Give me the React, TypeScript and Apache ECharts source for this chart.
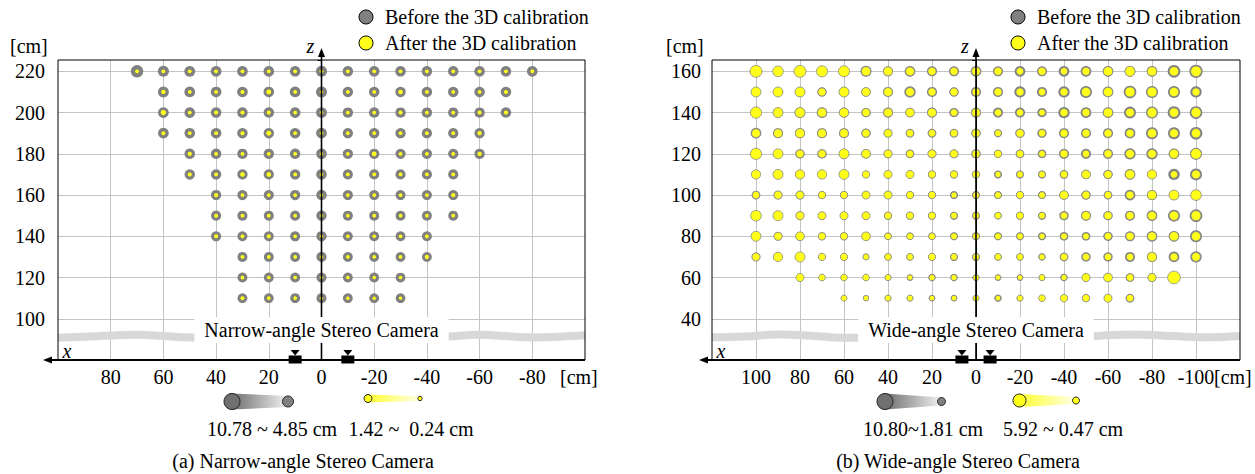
import React, { useEffect, useRef } from "react";
import * as echarts from "echarts";

const FONT = "Liberation Serif, Times New Roman, serif";

// ---------- Narrow-angle stereo camera (panel a) ----------
const narrowX = [70, 60, 50, 40, 30, 20, 10, 0, -10, -20, -30, -40, -50, -60, -70, -80];
const narrowZ = [220, 210, 200, 190, 180, 170, 160, 150, 140, 130, 120, 110];
const _ = null;
// error before calibration [cm]
const narrowBefore = [
  [10.78, 7.5, 7.2, 7.0, 6.8, 6.8, 6.6, 7.4, 6.4, 6.6, 6.5, 6.4, 6.3, 6.5, 6.6, 6.8],
  [_, 7.2, 6.9, 6.8, 6.6, 6.7, 6.9, 7.5, 6.2, 6.4, 6.3, 6.2, 6.2, 6.4, 6.5, _],
  [_, 6.9, 6.7, 6.6, 6.5, 6.4, 6.7, 7.2, 6.1, 6.3, 6.2, 6.1, 6.0, 6.2, 6.4, _],
  [_, 6.8, 6.6, 6.4, 6.3, 6.2, 6.5, 6.9, 5.9, 6.1, 6.0, 5.9, 5.9, 6.1, _, _],
  [_, _, 6.4, 6.2, 6.1, 6.0, 6.3, 6.7, 5.8, 5.9, 5.8, 5.7, 5.8, 6.0, _, _],
  [_, _, 6.2, 6.0, 5.9, 5.8, 6.1, 6.5, 5.6, 5.7, 5.6, 5.6, 5.7, _, _, _],
  [_, _, _, 5.9, 5.7, 5.6, 5.9, 6.3, 5.5, 5.5, 5.4, 5.4, 5.5, _, _, _],
  [_, _, _, 5.7, 5.5, 5.4, 5.7, 6.1, 5.3, 5.3, 5.2, 5.2, 5.4, _, _, _],
  [_, _, _, 5.5, 5.3, 5.2, 5.5, 5.9, 5.1, 5.1, 5.0, 5.1, _, _, _, _],
  [_, _, _, _, 5.2, 5.1, 5.3, 5.7, 5.0, 4.9, 4.9, 5.0, _, _, _, _],
  [_, _, _, _, 5.1, 5.0, 5.2, 5.5, 4.9, 4.9, 4.85, _, _, _, _, _],
  [_, _, _, _, 5.0, 4.9, 5.1, 5.4, 4.9, 4.85, 4.9, _, _, _, _, _],
];
// error after calibration [cm]
const narrowAfter = [
  [0.6, 0.5, 0.5, 0.5, 0.5, 0.5, 0.5, 0.5, 0.5, 0.5, 0.5, 0.5, 0.5, 0.5, 0.5, 0.6],
  [_, 0.8, 0.5, 0.5, 0.6, 1.2, 0.5, 0.4, 0.5, 0.5, 1.0, 0.5, 0.5, 0.5, 0.6, _],
  [_, 1.42, 0.5, 0.6, 0.6, 0.7, 0.5, 0.4, 0.5, 0.5, 0.6, 0.5, 0.5, 0.6, 0.7, _],
  [_, 0.6, 0.5, 0.5, 0.6, 1.2, 0.5, 0.4, 0.4, 0.5, 0.5, 0.5, 0.5, 0.8, _, _],
  [_, _, 0.8, 0.5, 0.5, 0.5, 0.5, 0.4, 0.5, 1.1, 0.5, 0.5, 0.5, 0.8, _, _],
  [_, _, 0.7, 0.5, 1.0, 1.0, 0.5, 0.4, 0.5, 0.5, 0.5, 0.5, 0.5, _, _, _],
  [_, _, _, 0.8, 0.5, 0.5, 0.5, 0.4, 0.4, 0.5, 0.5, 0.5, 0.8, _, _, _],
  [_, _, _, 0.6, 0.5, 0.5, 0.4, 0.4, 0.4, 0.4, 0.4, 0.4, 0.5, _, _, _],
  [_, _, _, 0.7, 0.5, 0.7, 0.4, 0.4, 0.4, 0.4, 0.4, 0.5, _, _, _, _],
  [_, _, _, _, 0.5, 0.5, 0.4, 0.4, 0.4, 0.4, 0.4, 0.7, _, _, _, _],
  [_, _, _, _, 0.5, 0.4, 0.4, 0.3, 0.4, 0.4, 0.4, _, _, _, _, _],
  [_, _, _, _, 0.6, 0.4, 0.4, 0.3, 0.3, 0.3, 0.24, _, _, _, _, _],
];
const narrowCameras = [10, -10];
const narrowBand = [
  [100, 90.8], [90, 91.3], [80, 91.9], [70, 92.2], [60, 91.6], [50, 90.9], [40, 90.6],
  [-40, 90.6], [-50, 91.5], [-60, 92.3], [-70, 91.6], [-80, 90.9], [-90, 91.3], [-100, 92.0],
];

// ---------- Wide-angle stereo camera (panel b) ----------
const wideX = [100, 90, 80, 70, 60, 50, 40, 30, 20, 10, 0, -10, -20, -30, -40, -50, -60, -70, -80, -90, -100];
const wideZ = [160, 150, 140, 130, 120, 110, 100, 90, 80, 70, 60, 50];
const wideBefore = [
  [6.8, 5.9, 7.6, 6.8, 6.8, 8.0, 6.8, 7.6, 6.8, 6.8, 7.6, 6.8, 7.6, 6.8, 7.6, 7.6, 7.6, 7.6, 7.6, 10.0, 10.8],
  [5.9, 5.9, 6.8, 5.9, 6.8, 5.9, 6.8, 8.4, 6.8, 5.9, 6.8, 6.8, 8.4, 6.8, 8.4, 9.2, 7.6, 10.0, 9.2, 9.2, 8.4],
  [6.8, 6.8, 7.6, 7.6, 6.8, 5.9, 6.8, 5.9, 6.8, 5.9, 6.8, 6.8, 6.8, 5.9, 8.4, 7.6, 7.6, 9.2, 9.2, 10.0, 10.0],
  [7.6, 6.8, 6.8, 6.8, 6.8, 5.9, 5.1, 5.1, 5.1, 5.1, 5.9, 4.3, 5.9, 5.9, 6.8, 6.8, 6.8, 7.6, 9.2, 9.2, 10.0],
  [6.8, 5.9, 5.9, 5.9, 6.8, 5.9, 5.1, 5.1, 5.1, 5.1, 5.9, 4.3, 5.1, 5.1, 6.8, 6.8, 6.8, 8.4, 8.4, 7.6, 9.2],
  [5.1, 5.9, 5.9, 5.1, 5.9, 3.5, 4.3, 4.3, 4.3, 4.3, 4.3, 4.3, 4.3, 4.3, 5.1, 5.9, 5.9, 7.6, 5.9, 8.4, 9.2],
  [5.1, 5.1, 5.1, 4.3, 4.3, 4.3, 4.3, 4.3, 4.3, 4.3, 4.3, 4.3, 4.3, 4.3, 5.9, 5.9, 5.1, 7.6, 6.8, 6.8, 7.6],
  [6.8, 5.9, 5.1, 4.3, 4.3, 4.3, 4.3, 4.3, 4.3, 4.3, 4.3, 3.5, 4.3, 4.3, 5.9, 6.8, 5.9, 6.8, 7.6, 9.2, 10.0],
  [5.9, 5.1, 5.1, 4.3, 4.3, 5.1, 3.5, 3.5, 3.5, 4.3, 4.3, 4.3, 4.3, 4.3, 5.1, 5.1, 5.9, 6.8, 7.6, 7.6, 9.2],
  [5.1, 5.1, 5.1, 3.5, 3.5, 2.6, 3.5, 3.5, 3.5, 4.3, 4.3, 3.5, 3.5, 3.5, 5.1, 5.9, 5.9, 6.8, 6.8, 7.6, 8.4],
  [_, _, 3.5, 2.6, 2.6, 2.6, 2.6, 2.6, 3.5, 3.5, 2.6, 2.6, 2.6, 2.6, 3.5, 4.3, 5.1, 5.1, 5.1, 8.4, _],
  [_, _, _, _, 1.81, 1.8, 2.6, 2.6, 2.6, 2.6, 2.6, 3.5, 2.6, 2.6, 3.5, 4.3, 4.3, 5.1, _, _, _],
];
const wideAfter = [
  [5.4, 4.4, 5.4, 4.7, 4.7, 3.4, 3.2, 3.0, 2.5, 2.5, 3.0, 2.5, 2.0, 2.5, 2.0, 2.5, 3.4, 3.9, 3.4, 3.4, 4.4],
  [3.9, 3.9, 3.9, 2.5, 3.9, 3.0, 3.0, 3.0, 2.5, 2.5, 2.5, 2.5, 2.5, 2.0, 2.5, 3.4, 3.4, 3.9, 3.9, 3.4, 2.5],
  [4.9, 3.9, 3.9, 3.4, 3.4, 2.5, 3.0, 3.0, 3.0, 2.0, 3.0, 2.0, 2.0, 1.5, 2.5, 2.5, 3.4, 3.0, 3.9, 3.4, 3.9],
  [3.0, 3.0, 3.4, 3.0, 3.0, 2.5, 2.5, 2.0, 2.0, 2.0, 2.5, 1.5, 2.5, 2.0, 2.5, 2.5, 2.5, 2.5, 3.4, 3.0, 3.4],
  [4.9, 3.9, 2.5, 2.5, 3.9, 3.0, 2.5, 2.0, 2.5, 2.5, 2.5, 2.0, 2.0, 1.5, 2.5, 2.0, 2.5, 3.0, 3.0, 3.4, 4.4],
  [3.4, 3.9, 3.4, 3.4, 3.9, 2.0, 2.5, 2.5, 2.0, 2.0, 2.0, 1.0, 1.5, 1.5, 2.0, 3.0, 2.5, 3.4, 3.4, 2.0, 3.0],
  [2.0, 2.5, 2.5, 2.0, 2.0, 2.5, 2.5, 2.0, 2.0, 1.0, 1.5, 1.5, 2.0, 1.5, 3.0, 2.5, 2.0, 2.5, 3.4, 3.9, 4.4],
  [4.4, 3.9, 2.5, 2.5, 2.5, 2.5, 2.0, 2.0, 2.0, 1.5, 1.5, 1.5, 2.0, 1.5, 2.0, 3.0, 2.5, 2.5, 3.0, 3.4, 3.9],
  [3.9, 2.5, 3.0, 2.0, 2.0, 3.0, 1.5, 1.5, 1.5, 1.5, 1.5, 1.5, 1.5, 1.0, 1.5, 1.5, 2.0, 2.5, 3.0, 3.4, 3.4],
  [2.5, 3.4, 3.9, 2.0, 2.0, 1.0, 1.5, 1.5, 2.0, 1.5, 1.5, 1.5, 1.5, 1.0, 2.0, 2.0, 2.0, 2.0, 3.4, 2.5, 3.0],
  [_, _, 2.5, 1.5, 1.5, 1.5, 1.0, 0.5, 1.0, 1.0, 1.0, 0.5, 0.5, 1.0, 1.0, 2.5, 3.0, 2.0, 2.5, 5.92, _],
  [_, _, _, _, 1.0, 0.47, 1.0, 1.0, 0.5, 0.5, 1.0, 0.5, 1.0, 1.5, 2.0, 2.0, 2.5, 2.0, _, _, _],
];
const wideCameras = [6.4, -6.4];
const wideBand = [
  [120, 31.0], [105, 31.4], [90, 32.4], [75, 31.8], [60, 30.8], [45, 30.9],
  [-45, 31.0], [-60, 32.0], [-75, 32.3], [-90, 31.6], [-105, 31.0], [-120, 31.6],
];

const NAME_BEFORE = "Before the 3D calibration";
const NAME_AFTER = "After the 3D calibration";

function toPoints(xs: number[], zs: number[], vals: (number | null)[][]) {
  const out: number[][] = [];
  zs.forEach((z, i) => {
    xs.forEach((x, j) => {
      const v = vals[i][j];
      if (v !== null && v !== undefined) out.push([x, z, v]);
    });
  });
  return out;
}

const GRAY = "#808080";
const YELLOW = "#ffff1a";
const GRID_COLOR = "#c4c4c4";
const RICH = { t: { fontFamily: FONT, fontSize: 20, color: "#000" } };

function axisX(gridIndex: number, lim: number) {
  return {
    type: "value",
    gridIndex,
    min: -lim,
    max: lim,
    interval: 20,
    inverse: true,
    axisLine: { show: false },
    axisTick: { show: false },
    splitLine: { show: true, showMinLine: false, showMaxLine: false, lineStyle: { color: GRID_COLOR, width: 1 } },
    axisLabel: {
      interval: 0,
      margin: 7,
      color: "#000",
      fontSize: 20,
      fontFamily: FONT,
      rich: RICH,
      formatter: (v: number) => (Math.abs(v) >= lim - 0.001 ? "" : `{t|${v}}`),
    },
  };
}

function axisY(gridIndex: number, min: number, max: number, margin: number) {
  return {
    type: "value",
    gridIndex,
    min,
    max,
    interval: 20,
    axisLine: { show: true, lineStyle: { color: "#000", width: 1 } },
    axisTick: { show: true, length: 4, lineStyle: { color: "#000" } },
    splitLine: { show: true, showMinLine: false, showMaxLine: false, lineStyle: { color: GRID_COLOR, width: 1 } },
    axisLabel: {
      margin,
      color: "#000",
      fontSize: 20,
      fontFamily: FONT,
      rich: RICH,
      formatter: (v: number) => (v > min + 0.001 && v < max - 1 && v % 20 === 0 ? `{t|${v}}` : ""),
    },
  };
}

export default function App() {
  const ref = useRef<HTMLDivElement>(null);
  useEffect(() => {
    if (!ref.current) return;
    const chart = echarts.init(ref.current, null, { renderer: "svg" });
    const nbSize = (e: number) => 7.6 + 0.45 * e;
    const naSize = (e: number) => 3.0 + 1.6 * e;
    const wbSize = (e: number) => 4.53 + 0.81 * e;
    const waSize = (e: number) => 4.7 + 1.345 * e;

    const option: any = {
      animation: false,
      backgroundColor: "#fff",
      textStyle: { fontFamily: FONT, fontSize: 20, color: "#000" },
      grid: [
        { left: 58, top: 60, width: 527, height: 300, show: false },
        { left: 712, top: 60, width: 528, height: 300, show: false },
      ],
      xAxis: [axisX(0, 100), axisX(1, 120)],
      yAxis: [axisY(0, 80, 225.5, 13), axisY(1, 20, 165.5, 11)],
      series: [
        {
          name: NAME_BEFORE, type: "scatter", xAxisIndex: 0, yAxisIndex: 0, silent: true, z: 2,
          data: toPoints(narrowX, narrowZ, narrowBefore),
          symbolSize: (v: number[]) => nbSize(v[2]),
          itemStyle: { color: GRAY, opacity: 1 },
        },
        {
          name: NAME_AFTER, type: "scatter", xAxisIndex: 0, yAxisIndex: 0, silent: true, z: 3,
          data: toPoints(narrowX, narrowZ, narrowAfter),
          symbolSize: (v: number[]) => naSize(v[2]),
          itemStyle: { color: YELLOW, opacity: 1 },
        },
        {
          name: NAME_BEFORE, type: "scatter", xAxisIndex: 1, yAxisIndex: 1, silent: true, z: 2,
          data: toPoints(wideX, wideZ, wideBefore),
          symbolSize: (v: number[]) => wbSize(v[2]),
          itemStyle: { color: GRAY, opacity: 1 },
        },
        {
          name: NAME_AFTER, type: "scatter", xAxisIndex: 1, yAxisIndex: 1, silent: true, z: 3,
          data: toPoints(wideX, wideZ, wideAfter),
          symbolSize: (v: number[]) => waSize(v[2]),
          itemStyle: { color: YELLOW, opacity: 1, borderColor: "#8a8a8a", borderWidth: 0.8 },
        },
      ],
    };
    chart.setOption(option);

    const graphics: any[] = [];
    const txt = (x: number, y: number, text: string, extra: any = {}, z = 30) => {
      graphics.push({
        type: "text", x, y, z, silent: true,
        style: { text, fontSize: 20, fontFamily: FONT, fill: "#000", align: "left", verticalAlign: "middle", ...extra },
      });
    };

    const panels = [
      { g: 0, lim: 100, zMin: 80, zMax: 225.5, cams: narrowCameras, band: narrowBand, label: "Narrow-angle Stereo Camera", tip: 15 },
      { g: 1, lim: 120, zMin: 20, zMax: 165.5, cams: wideCameras, band: wideBand, label: "Wide-angle Stereo Camera", tip: 13 },
    ];
    panels.forEach((p) => {
      const px = (x: number, z: number) => chart.convertToPixel({ gridIndex: p.g } as any, [x, z]) as number[];
      const [L, B] = px(p.lim, p.zMin);
      const [R, T] = px(-p.lim, p.zMax);
      const X0 = px(0, p.zMin)[0];
      // wavy band
      graphics.push({
        type: "polyline", z: 5, silent: true,
        shape: { points: p.band.map((b) => px(b[0], b[1])), smooth: 0.4 },
        style: { stroke: "#d8d8d8", lineWidth: 8, fill: "none" },
      });
      // box
      graphics.push({
        type: "rect", z: 20, silent: true,
        shape: { x: L, y: T, width: R - L, height: B - T },
        style: { fill: "none", stroke: "#000", lineWidth: 1 },
      });
      // z axis
      graphics.push({
        type: "line", z: 12, silent: true,
        shape: { x1: X0, y1: B, x2: X0, y2: T - 5 },
        style: { stroke: "#000", lineWidth: 1.6 },
      });
      graphics.push({
        type: "polygon", z: 12, silent: true,
        shape: { points: [[X0, T - 12], [X0 - 3.5, T - 3], [X0 + 3.5, T - 3]] },
        style: { fill: "#000" },
      });
      // x axis
      graphics.push({
        type: "line", z: 21, silent: true,
        shape: { x1: L - p.tip + 4, y1: B, x2: R, y2: B },
        style: { stroke: "#000", lineWidth: 1.8 },
      });
      graphics.push({
        type: "polygon", z: 21, silent: true,
        shape: { points: [[L - p.tip, B], [L - p.tip + 9, B - 3.5], [L - p.tip + 9, B + 3.5]] },
        style: { fill: "#000" },
      });
      // cameras
      p.cams.forEach((cx) => {
        const c = px(cx, p.zMin)[0];
        graphics.push({
          type: "rect", z: 22, silent: true,
          shape: { x: c - 6.5, y: B - 4.5, width: 13, height: 8 },
          style: { fill: "#000" },
        });
        graphics.push({
          type: "polygon", z: 22, silent: true,
          shape: { points: [[c - 4.5, B - 10], [c + 4.5, B - 10], [c, B - 4.5]] },
          style: { fill: "#000" },
        });
      });
      // axis letters
      txt(X0 - 11, T - 14, "z", { fontStyle: "italic", align: "center" });
      txt(L + 9, B - 9, "x", { fontStyle: "italic", align: "center" });
      // camera label with white box
      graphics.push({
        type: "text", x: X0, y: B - 30, z: 25, silent: true,
        style: {
          text: p.label, fontSize: 20, fontFamily: FONT, fill: "#000",
          align: "center", verticalAlign: "middle",
          backgroundColor: "#fff", padding: [3, 10, 3, 10], lineHeight: 20,
        },
      });
    });

    // unit labels
    txt(10, 46, "[cm]");
    txt(666, 46, "[cm]");
    txt(560, 377, "[cm]");
    txt(1214, 377, "[cm]");

    // top legends
    const legend = (cx: number) => {
      graphics.push({ type: "circle", z: 30, silent: true, shape: { cx, cy: 17, r: 7 }, style: { fill: GRAY, stroke: "#000", lineWidth: 1 } });
      graphics.push({ type: "circle", z: 30, silent: true, shape: { cx, cy: 43, r: 7 }, style: { fill: YELLOW, stroke: "#000", lineWidth: 1 } });
      txt(cx + 19, 17, NAME_BEFORE);
      txt(cx + 19, 43, NAME_AFTER);
    };
    legend(366);
    legend(1018);

    // size legends
    const sizeLegend = (x1: number, r1: number, x2: number, r2: number, cy: number, fillBig: string, fillSmall: string, gradFrom: string, gradTo: string, stroke: string) => {
      graphics.push({
        type: "polygon", z: 29, silent: true,
        shape: { points: [[x1, cy - r1], [x2, cy - r2], [x2, cy + r2], [x1, cy + r1]] },
        style: {
          fill: new echarts.graphic.LinearGradient(0, 0, 1, 0, [
            { offset: 0, color: gradFrom },
            { offset: 1, color: gradTo },
          ]),
        },
      });
      graphics.push({ type: "circle", z: 30, silent: true, shape: { cx: x1, cy, r: r1 }, style: { fill: fillBig, stroke, lineWidth: 1 } });
      graphics.push({ type: "circle", z: 30, silent: true, shape: { cx: x2, cy, r: r2 }, style: { fill: fillSmall, stroke, lineWidth: 1 } });
    };
    sizeLegend(232, 8, 288, 5.5, 401.5, "#707070", "#808080", "#6e6e6e", "#f2f2f2", "#222");
    sizeLegend(368, 4, 420, 2.2, 398.5, YELLOW, YELLOW, "#ffff33", "#ffffe6", "#222");
    sizeLegend(885, 8, 941.5, 4, 401.5, "#707070", "#808080", "#6e6e6e", "#f2f2f2", "#222");
    sizeLegend(1019.5, 6.5, 1076, 3.5, 400.5, YELLOW, YELLOW, "#ffff33", "#ffffe6", "#222");

    txt(272, 429, "10.78 ~ 4.85 cm", { align: "center" });
    txt(411, 429, "1.42 ~  0.24 cm", { align: "center" });
    txt(923, 429, "10.80~1.81 cm", { align: "center" });
    txt(1063, 429, "5.92 ~ 0.47 cm", { align: "center" });

    txt(303, 461, "(a) Narrow-angle Stereo Camera", { align: "center" });
    txt(958, 461, "(b) Wide-angle Stereo Camera", { align: "center" });

    chart.setOption({ graphic: { elements: graphics } });

    return () => chart.dispose();
  }, []);

  return (
    <div
      ref={ref}
      style={{ position: "fixed", left: 0, top: 0, width: 1255, height: 474, background: "#fff" }}
    />
  );
}
